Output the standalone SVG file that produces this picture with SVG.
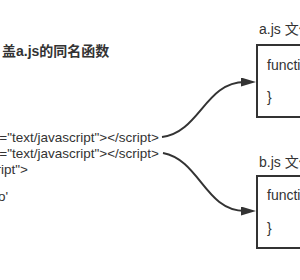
<svg xmlns="http://www.w3.org/2000/svg" width="300" height="280" viewBox="0 0 300 280">
<style>
text{font-family:"Liberation Sans","Noto Sans CJK SC",sans-serif;fill:#333}
.code{font-size:13.5px}
.lbl{font-size:14px}
.title{font-size:14px;font-weight:bold}
.box{fill:#fff;stroke:#333;stroke-width:2}
.conn{fill:none;stroke:#333;stroke-width:2}
</style>
<defs>
<marker id="arr" markerUnits="userSpaceOnUse" markerWidth="16" markerHeight="10" refX="4" refY="4.5" orient="auto">
<path d="M0,0 L15,4.5 L0,9 Z" fill="#333"/>
</marker>
</defs>
<rect width="300" height="280" fill="#fff"/>
<g id="html">
<text class="title" x="2" y="56">盖a.js的同名函数</text>
<text class="code" x="159" y="142" text-anchor="end">="text/javascript"&gt;&lt;/script&gt;</text>
<text class="code" x="159" y="158" text-anchor="end">="text/javascript"&gt;&lt;/script&gt;</text>
<text class="code" x="28" y="174" text-anchor="end">ript"&gt;</text>
<text class="code" x="8" y="201" text-anchor="end">o'</text>
</g>
<g id="a-js">
<text class="lbl" x="259" y="34">a.js 文件</text>
<rect class="box" x="257" y="45" width="60" height="72"/>
<text class="lbl" x="267" y="70">function</text>
<text class="lbl" x="267" y="102">}</text>
</g>
<g id="b-js">
<text class="lbl" x="259" y="167">b.js 文件</text>
<rect class="box" x="257" y="176" width="60" height="72"/>
<text class="lbl" x="267" y="200">function</text>
<text class="lbl" x="267" y="233">}</text>
</g>
<g id="connectors">
<path class="conn" d="M162,137 C200,132 205,82 245,82" marker-end="url(#arr)"/>
<path class="conn" d="M163,153 C200,160 205,211 245,211" marker-end="url(#arr)"/>
</g>
</svg>
